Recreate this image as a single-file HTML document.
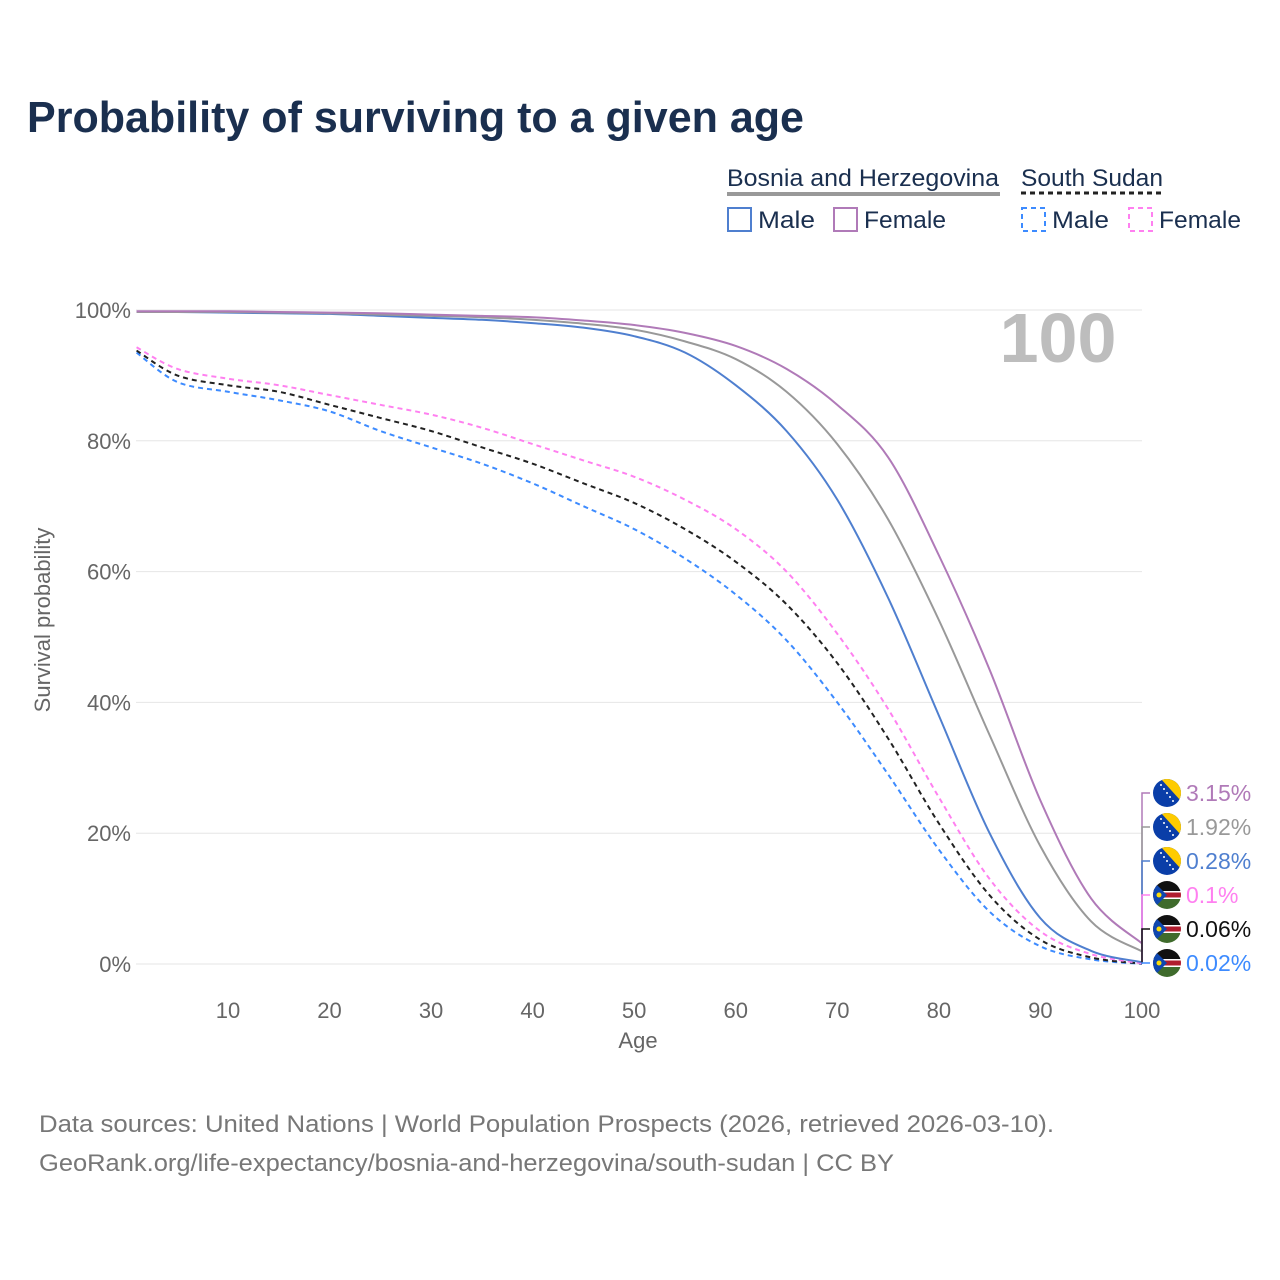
<!DOCTYPE html>
<html><head><meta charset="utf-8">
<style>
body{margin:0;background:#fff;font-family:"Liberation Sans",sans-serif;}
#wrap{position:relative;width:1280px;height:1280px;overflow:hidden}
</style></head>
<body>
<div id="wrap">
<svg id="chart" width="1280" height="1280" viewBox="0 0 1280 1280">
  <defs>
    <clipPath id="cc"><circle cx="0" cy="0" r="14"/></clipPath>
    <g id="ba">
      <g clip-path="url(#cc)">
        <rect x="-14" y="-14" width="28" height="28" fill="#0a3ea8"/>
        <polygon points="-6,-14 14,-14 14,8" fill="#fecb00"/>
        <g fill="#fff"><circle cx="-6" cy="-8" r="1"/><circle cx="-3" cy="-4" r="1"/><circle cx="0" cy="0" r="1"/><circle cx="3" cy="4" r="1"/><circle cx="6" cy="8" r="1"/></g>
      </g>
    </g>
    <g id="ss">
      <g clip-path="url(#cc)">
        <rect x="-14" y="-14" width="28" height="10" fill="#111"/>
        <rect x="-14" y="-4" width="28" height="8" fill="#fff"/>
        <rect x="-14" y="-2.5" width="28" height="5" fill="#b01c2e"/>
        <rect x="-14" y="4" width="28" height="10" fill="#3f6b2c"/>
        <polygon points="-14,-14 0,0 -14,14" fill="#0f47af"/>
        <circle cx="-8" cy="0" r="2.5" fill="#fcdd09"/>
      </g>
    </g>
  </defs>
  <text x="27" y="132" font-size="44" font-weight="bold" fill="#1a2f4f" textLength="777" lengthAdjust="spacingAndGlyphs">Probability of surviving to a given age</text>
  <g id="grid"></g>
  <g id="lines"></g>
  <g id="ends"></g>
  <text x="1058" y="362" font-size="70" font-weight="bold" fill="#bdbdbd" text-anchor="middle">100</text>
  <text x="638" y="1048" font-size="22" fill="#666" text-anchor="middle">Age</text>
  <text transform="translate(50,620) rotate(-90)" font-size="22" fill="#666" text-anchor="middle">Survival probability</text>
  <g font-size="24" fill="#1a2f4f">
    <text x="727" y="186" textLength="272" lengthAdjust="spacingAndGlyphs">Bosnia and Herzegovina</text>
    <line x1="727" y1="194" x2="1000" y2="194" stroke="#999" stroke-width="4"/>
    <text x="1021" y="186" textLength="142" lengthAdjust="spacingAndGlyphs">South Sudan</text>
    <line x1="1021" y1="193" x2="1163" y2="193" stroke="#222" stroke-width="3" stroke-dasharray="5,4"/>
    <g><rect x="728" y="208" width="23" height="23" fill="none" stroke="#4f7fcf" stroke-width="2"/><text x="758" y="228" textLength="57" lengthAdjust="spacingAndGlyphs">Male</text></g>
    <g><rect x="834" y="208" width="23" height="23" fill="none" stroke="#b07ab8" stroke-width="2"/><text x="864" y="228" textLength="82" lengthAdjust="spacingAndGlyphs">Female</text></g>
    <g><rect x="1022" y="208" width="23" height="23" fill="none" stroke="#3d8bff" stroke-width="2" stroke-dasharray="5,4"/><text x="1052" y="228" textLength="57" lengthAdjust="spacingAndGlyphs">Male</text></g>
    <g><rect x="1129" y="208" width="23" height="23" fill="none" stroke="#ff80f0" stroke-width="2" stroke-dasharray="5,4"/><text x="1159" y="228" textLength="82" lengthAdjust="spacingAndGlyphs">Female</text></g>
  </g>
  <text x="39" y="1132" font-size="24" fill="#777" textLength="1015" lengthAdjust="spacingAndGlyphs">Data sources: United Nations | World Population Prospects (2026, retrieved 2026-03-10).</text>
  <text x="39" y="1171" font-size="24" fill="#777" textLength="855" lengthAdjust="spacingAndGlyphs">GeoRank.org/life-expectancy/bosnia-and-herzegovina/south-sudan | CC BY</text>
</svg>
</div>
<script>
const ages = [1,5,10,15,20,25,30,35,40,45,50,55,60,65,70,75,80,85,90,95,100];
const bihFemale = [99.8,99.8,99.8,99.7,99.6,99.5,99.3,99.1,98.9,98.4,97.7,96.5,94.5,91,85.5,77.5,62.5,45,25,10,3.15];
const bihTotal  = [99.7,99.7,99.7,99.6,99.5,99.3,99.1,98.9,98.5,97.9,97,95.2,92.5,87.5,79.5,68,52.6,35,18,6.5,1.92];
const bihMale   = [99.7,99.7,99.6,99.5,99.4,99.1,98.8,98.5,98,97.3,96,93.5,88.5,81.5,71,56,38,20,7,2,0.28];
const ssFemale  = [94.3,91,89.5,88.5,87,85.5,84,82,79.5,77,74.5,71,66.5,60,50.5,39,25.5,13,5,1.5,0.1];
const ssTotal   = [93.8,90,88.5,87.5,85.5,83.5,81.5,79,76.5,73.5,70.5,66.5,61.5,55,46,34.5,21.5,10.5,3.7,1,0.06];
const ssMale    = [93.5,89,87.5,86.2,84.5,81.5,79,76.5,73.5,70,66.5,62,56.5,49.5,40,29,17.5,8,2.7,0.7,0.02];
const yTicks = [0,20,40,60,80,100];
const xTicks = [10,20,30,40,50,60,70,80,90,100];
const endLabels = ["3.15%","1.92%","0.28%","0.1%","0.06%","0.02%"];

const NS="http://www.w3.org/2000/svg";
const X = a => 126.4 + (a)*(1142-228)/90;
const Y = v => 964 - v*6.54;
function mk(tag, attrs, parent){const e=document.createElementNS(NS,tag);for(const k in attrs)e.setAttribute(k,attrs[k]);parent.appendChild(e);return e;}
const grid=document.getElementById('grid');
yTicks.forEach(t=>{
  const l=mk('line',{x1:136,x2:1142,y1:Y(t),y2:Y(t),stroke:'#e6e6e6','stroke-width':1},grid);
  
  
  const tx=mk('text',{x:131,y:Y(t)+8,'font-size':22,fill:'#666','text-anchor':'end'},grid);
  tx.textContent=t+'%';
  
  
});
xTicks.forEach(t=>{
  const tx=mk('text',{x:X(t),y:1018,'font-size':22,fill:'#666','text-anchor':'middle'},grid);
  tx.textContent=t;
  
  
});
function pathD(vals){
  const p=ages.map((a,i)=>[X(a),Y(vals[i])]);
  let d='M'+p[0][0]+','+p[0][1];
  for(let i=0;i<p.length-1;i++){
    const p0=p[Math.max(i-1,0)],p1=p[i],p2=p[i+1],p3=p[Math.min(i+2,p.length-1)];
    const c1=[p1[0]+(p2[0]-p0[0])/6,p1[1]+(p2[1]-p0[1])/6];
    const c2=[p2[0]-(p3[0]-p1[0])/6,p2[1]-(p3[1]-p1[1])/6];
    d+=' C'+c1+' '+c2+' '+p2;
  }
  return d;
}
const series=[
  {v:ssMale,c:'#3d8bff',dash:'5,4',n:'line-ss-male'},
  {v:ssTotal,c:'#222',dash:'5,4',n:'line-ss-total'},
  {v:ssFemale,c:'#ff80f0',dash:'5,4',n:'line-ss-female'},
  {v:bihMale,c:'#4f7fcf',dash:'',n:'line-bih-male'},
  {v:bihTotal,c:'#999',dash:'',n:'line-bih-total'},
  {v:bihFemale,c:'#b07ab8',dash:'',n:'line-bih-female'}
];
const lines=document.getElementById('lines');
series.forEach(s=>{
  const p=mk('path',{d:pathD(s.v),fill:'none',stroke:s.c,'stroke-width':2,'stroke-dasharray':s.dash},lines);
  
  
});
const ends=document.getElementById('ends');
const endSeries=[
  {v:bihFemale,c:'#b07ab8',f:'ba'},{v:bihTotal,c:'#999',f:'ba'},{v:bihMale,c:'#4f7fcf',f:'ba'},
  {v:ssFemale,c:'#ff80f0',f:'ss'},{v:ssTotal,c:'#111',f:'ss'},{v:ssMale,c:'#3d8bff',f:'ss'}];
endSeries.forEach((s,i)=>{
  const ly=793+i*34;
  const yEnd=Y(s.v[s.v.length-1]);
  mk('path',{d:`M1142,${yEnd} V${ly} H1150`,fill:'none',stroke:s.c,'stroke-width':1.5},ends);
  const u=mk('use',{href:'#'+s.f,x:1167,y:ly},ends);
  
  
  const t=mk('text',{x:1186,y:ly+8,'font-size':23,fill:s.c},ends);
  t.textContent=endLabels[i];
  
  
});
</script>
</body></html>
